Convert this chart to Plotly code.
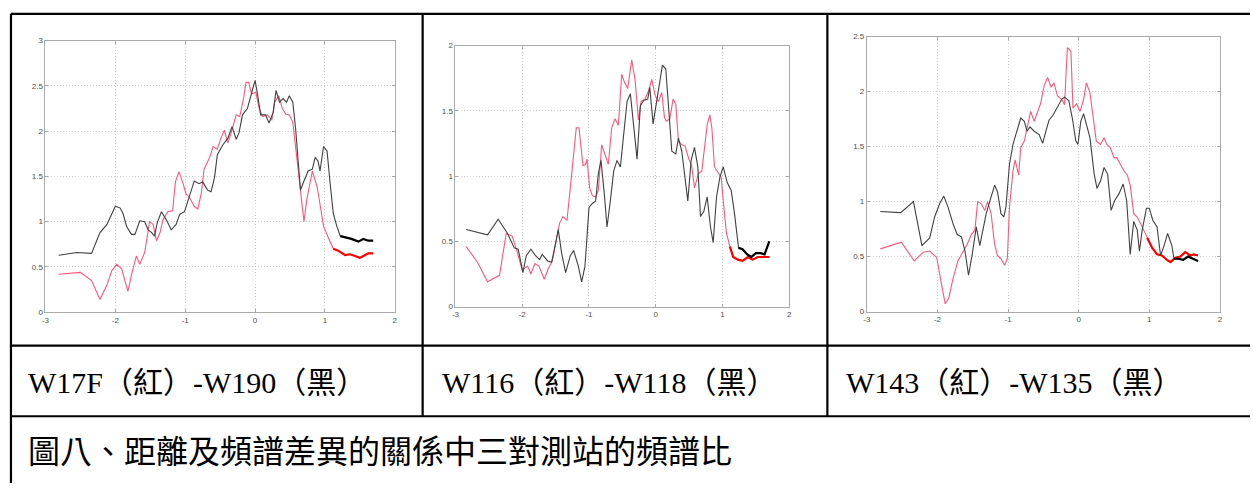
import plotly.graph_objects as go

W, H = 1253, 488

# ---------------- data ----------------
# Panel 1: W17F (red) - W190 (black)
p1_black_x = [-2.81, -2.55, -2.34, -2.22, -2.12, -2.05, -2.0, -1.93, -1.89, -1.84, -1.77, -1.72, -1.65, -1.58,
              -1.53, -1.48, -1.44, -1.40, -1.34, -1.27, -1.20, -1.13, -1.08, -1.01, -0.96, -0.91, -0.87, -0.80,
              -0.75, -0.68, -0.63, -0.58, -0.54, -0.46, -0.39, -0.33, -0.27, -0.23, -0.18, -0.11, -0.06, 0.0,
              0.03, 0.08, 0.15, 0.20, 0.26, 0.30, 0.35, 0.40, 0.45, 0.49, 0.54, 0.58, 0.62, 0.65, 0.70, 0.76,
              0.82, 0.86, 0.90, 0.93, 0.98, 1.03, 1.08, 1.12, 1.17, 1.22, 1.29, 1.38, 1.48, 1.55, 1.62, 1.69]
p1_black_y = [0.63, 0.66, 0.65, 0.88, 0.97, 1.09, 1.17, 1.15, 1.09, 0.95, 0.86, 0.86, 1.01, 1.00,
              0.91, 0.88, 0.84, 0.99, 1.11, 1.02, 0.91, 0.97, 1.08, 1.11, 1.24, 1.35, 1.45, 1.42,
              1.44, 1.35, 1.33, 1.49, 1.74, 1.85, 1.92, 2.05, 1.91, 1.98, 2.18, 2.25, 2.38, 2.56,
              2.43, 2.18, 2.18, 2.09, 2.21, 2.45, 2.32, 2.36, 2.32, 2.39, 2.32, 2.03, 1.64, 1.35, 1.45, 1.56,
              1.58, 1.71, 1.67, 1.56, 1.83, 1.78, 1.38, 1.09, 0.95, 0.84, 0.83, 0.81, 0.78, 0.81, 0.79, 0.79]
p1_red_x = [-2.81, -2.50, -2.34, -2.22, -2.12, -2.05, -1.98, -1.91, -1.82, -1.77, -1.70, -1.65, -1.58, -1.51,
            -1.46, -1.41, -1.36, -1.32, -1.25, -1.18, -1.14, -1.09, -1.03, -0.99, -0.94, -0.87, -0.82, -0.77,
            -0.73, -0.65, -0.60, -0.54, -0.49, -0.44, -0.39, -0.35, -0.27, -0.22, -0.16, -0.13, -0.09, -0.05,
            0.01, 0.06, 0.11, 0.18, 0.24, 0.28, 0.34, 0.39, 0.44, 0.49, 0.54, 0.60, 0.65, 0.70, 0.74, 0.79,
            0.82, 0.89, 0.93, 0.98, 1.05, 1.12, 1.19, 1.29, 1.36, 1.43, 1.50, 1.55, 1.62, 1.69]
p1_red_y = [0.42, 0.44, 0.35, 0.14, 0.30, 0.46, 0.53, 0.48, 0.23, 0.41, 0.62, 0.53, 0.66, 1.00,
            0.97, 0.79, 0.88, 1.02, 1.11, 1.12, 1.44, 1.55, 1.42, 1.31, 1.27, 1.17, 1.14, 1.31,
            1.58, 1.71, 1.83, 1.80, 1.92, 2.01, 1.87, 1.96, 2.18, 2.16, 2.38, 2.54, 2.54, 2.41,
            2.43, 2.25, 2.16, 2.18, 2.12, 2.32, 2.39, 2.25, 2.19, 2.18, 2.10, 1.67, 1.31, 1.00, 1.24, 1.45,
            1.56, 1.38, 1.17, 0.95, 0.82, 0.70, 0.68, 0.63, 0.64, 0.62, 0.60, 0.62, 0.65, 0.65]

# Panel 2: W116 (red) - W118 (black)
p2_black_x = [-2.84, -2.52, -2.36, -2.22, -2.12, -2.06, -1.99, -1.94, -1.87, -1.80, -1.74, -1.70, -1.62, -1.56,
              -1.53, -1.46, -1.41, -1.35, -1.28, -1.23, -1.16, -1.11, -1.06, -1.00, -0.95, -0.90, -0.86, -0.82,
              -0.77, -0.73, -0.68, -0.63, -0.58, -0.53, -0.48, -0.43, -0.38, -0.33, -0.28, -0.23, -0.18, -0.12,
              -0.09, -0.04, 0.0, 0.05, 0.10, 0.15, 0.20, 0.24, 0.30, 0.34, 0.39, 0.44, 0.48, 0.53, 0.58, 0.63,
              0.67, 0.72, 0.77, 0.82, 0.86, 0.91, 0.96, 1.01, 1.07, 1.13, 1.18, 1.24, 1.30, 1.37, 1.43, 1.50,
              1.57, 1.63, 1.67, 1.70]
p2_black_y = [0.59, 0.55, 0.67, 0.56, 0.45, 0.44, 0.26, 0.39, 0.44, 0.39, 0.36, 0.40, 0.35, 0.34,
              0.41, 0.59, 0.41, 0.26, 0.39, 0.43, 0.31, 0.19, 0.31, 0.76, 0.79, 0.81, 1.02, 1.12,
              0.86, 0.61, 0.81, 1.04, 1.12, 1.07, 1.32, 1.57, 1.63, 1.40, 1.13, 1.54, 1.58, 1.59,
              1.68, 1.40, 1.52, 1.68, 1.85, 1.82, 1.47, 1.19, 1.17, 1.29, 1.19, 0.96, 0.81, 1.12, 1.22, 1.07,
              0.69, 0.73, 0.84, 0.61, 0.49, 0.84, 0.99, 1.07, 0.95, 0.89, 0.71, 0.45, 0.44, 0.40, 0.38, 0.41,
              0.41, 0.40, 0.45, 0.50]
p2_red_x = [-2.84, -2.67, -2.52, -2.34, -2.24, -2.15, -2.07, -2.00, -1.92, -1.87, -1.81, -1.75, -1.67, -1.61,
            -1.55, -1.49, -1.44, -1.39, -1.33, -1.28, -1.23, -1.19, -1.15, -1.12, -1.09, -1.05, -1.03, -0.99,
            -0.95, -0.90, -0.86, -0.81, -0.76, -0.71, -0.66, -0.61, -0.56, -0.51, -0.47, -0.42, -0.36, -0.31,
            -0.26, -0.22, -0.16, -0.11, -0.06, -0.01, 0.04, 0.09, 0.13, 0.16, 0.21, 0.26, 0.30, 0.34, 0.39,
            0.44, 0.49, 0.54, 0.58, 0.64, 0.69, 0.72, 0.77, 0.81, 0.84, 0.88, 0.93, 0.98, 1.02, 1.06, 1.11,
            1.16, 1.23, 1.30, 1.38, 1.45, 1.53, 1.63, 1.70]
p2_red_y = [0.46, 0.34, 0.19, 0.24, 0.56, 0.54, 0.41, 0.28, 0.31, 0.25, 0.33, 0.31, 0.21, 0.29,
            0.35, 0.51, 0.64, 0.69, 0.66, 0.91, 1.17, 1.37, 1.37, 1.22, 1.08, 1.09, 1.13, 0.91,
            0.85, 0.84, 0.89, 1.24, 1.17, 1.09, 1.37, 1.44, 1.39, 1.78, 1.72, 1.67, 1.89, 1.74,
            1.43, 1.57, 1.59, 1.65, 1.74, 1.62, 1.57, 1.64, 1.45, 1.42, 1.44, 1.59, 1.55, 1.27, 1.24,
            1.23, 1.14, 1.07, 0.91, 1.02, 1.04, 1.17, 1.39, 1.47, 1.37, 1.07, 1.03, 0.99, 0.76, 0.56, 0.46,
            0.38, 0.36, 0.35, 0.38, 0.36, 0.38, 0.38, 0.38]

# Panel 3: W143 (red) - W135 (black)
p3_black_x = [-2.81, -2.52, -2.34, -2.22, -2.11, -2.04, -1.97, -1.91, -1.85, -1.78, -1.72, -1.66, -1.61, -1.56,
              -1.51, -1.45, -1.40, -1.36, -1.31, -1.26, -1.19, -1.15, -1.10, -1.06, -1.03, -0.98, -0.93, -0.89,
              -0.82, -0.77, -0.73, -0.69, -0.63, -0.56, -0.51, -0.46, -0.42, -0.36, -0.31, -0.24, -0.20, -0.14,
              -0.09, -0.04, -0.01, 0.03, 0.07, 0.11, 0.16, 0.22, 0.26, 0.31, 0.36, 0.41, 0.46, 0.51, 0.57, 0.63,
              0.68, 0.73, 0.78, 0.83, 0.86, 0.90, 0.96, 1.00, 1.05, 1.11, 1.16, 1.21, 1.26, 1.32, 1.35, 1.41,
              1.48, 1.55, 1.62, 1.69]
p3_black_y = [0.91, 0.90, 1.00, 0.60, 0.67, 0.86, 0.98, 1.05, 0.95, 0.80, 0.70, 0.68, 0.55, 0.33,
              0.51, 0.77, 0.60, 0.74, 0.89, 1.00, 1.15, 1.09, 0.89, 0.86, 0.95, 1.34, 1.52, 1.61,
              1.76, 1.73, 1.64, 1.68, 1.64, 1.61, 1.53, 1.65, 1.74, 1.79, 1.85, 1.93, 1.95, 1.92,
              1.76, 1.55, 1.52, 1.73, 1.80, 1.70, 1.58, 1.25, 1.12, 1.19, 1.31, 1.25, 0.92, 1.01, 1.07, 1.16,
              1.01, 0.52, 0.82, 0.74, 0.55, 0.74, 0.94, 0.94, 0.83, 0.77, 0.51, 0.60, 0.71, 0.60, 0.48, 0.48,
              0.47, 0.50, 0.48, 0.46]
p3_red_x = [-2.81, -2.51, -2.33, -2.20, -2.11, -2.01, -1.94, -1.89, -1.84, -1.78, -1.71, -1.64, -1.58, -1.52,
            -1.47, -1.43, -1.38, -1.33, -1.29, -1.24, -1.19, -1.15, -1.10, -1.05, -1.01, -0.98, -0.93, -0.90,
            -0.85, -0.82, -0.77, -0.72, -0.68, -0.63, -0.58, -0.54, -0.49, -0.44, -0.39, -0.35, -0.30, -0.24,
            -0.20, -0.16, -0.11, -0.08, -0.03, 0.02, 0.07, 0.11, 0.16, 0.21, 0.25, 0.31, 0.36, 0.40, 0.45,
            0.50, 0.54, 0.59, 0.64, 0.69, 0.73, 0.78, 0.83, 0.90, 0.97, 1.04, 1.11, 1.18, 1.25, 1.30, 1.37,
            1.44, 1.51, 1.58, 1.63, 1.69]
p3_red_y = [0.57, 0.63, 0.46, 0.54, 0.55, 0.49, 0.24, 0.07, 0.12, 0.30, 0.46, 0.54, 0.61, 0.70,
            0.74, 1.00, 0.98, 0.92, 1.00, 0.89, 0.61, 0.51, 0.48, 0.42, 0.48, 0.95, 1.28, 1.38,
            1.24, 1.49, 1.55, 1.70, 1.82, 1.73, 1.82, 1.89, 2.05, 2.13, 2.04, 2.08, 1.96, 1.93,
            1.88, 2.40, 2.37, 1.85, 1.89, 1.82, 1.93, 2.08, 1.99, 1.76, 1.55, 1.52, 1.58, 1.52, 1.49,
            1.40, 1.40, 1.34, 1.28, 1.24, 1.15, 0.89, 0.86, 0.77, 0.67, 0.58, 0.52, 0.51, 0.47, 0.45, 0.49,
            0.50, 0.54, 0.51, 0.52, 0.51]

# where each series turns into the dense, heavier tail
tail_start = {"p1_red": 1.10, "p1_black": 1.20, "p2_red": 1.11, "p2_black": 1.24,
              "p3_red": 0.97, "p3_black": 1.35}

y_ticks = [[0, 0.5, 1, 1.5, 2, 2.5, 3], [0, 0.5, 1, 1.5, 2], [0, 0.5, 1, 1.5, 2, 2.5]]
y_tick_text = [["0", "0.5", "1", "1.5", "2", "2.5", "3"], ["0", "0.5", "1", "1.5", "2"],
               ["0", "0.5", "1", "1.5", "2", "2.5"]]
x_ticks = [-3, -2, -1, 0, 1, 2]
x_tick_text = ["-3", "-2", "-1", "0", "1", "2"]

pair_labels = ["W17F（紅）-W190（黑）", "W116（紅）-W118（黑）", "W143（紅）-W135（黑）"]
caption = "圖八、距離及頻譜差異的關係中三對測站的頻譜比"

# ---------------- layout helpers ----------------
def px(x):
    return x / W

def py(y):
    return 1 - y / H

# plot boxes in pixels: left, right, top, bottom
boxes = [(41.7, 393.0, 37.3, 314.0), (454.0, 789.7, 42.3, 308.3), (867.7, 1222.7, 33.3, 313.3)]

RED_THIN = "#ff5577"
RED_TAIL = "#ff0000"
BLACK_THIN = "#404040"
BLACK_TAIL = "#000000"

fig = go.Figure()

series = [
    (p1_red_x, p1_red_y, p1_black_x, p1_black_y, "p1"),
    (p2_red_x, p2_red_y, p2_black_x, p2_black_y, "p2"),
    (p3_red_x, p3_red_y, p3_black_x, p3_black_y, "p3"),
]

for i, (rx, ry, bx, by, key) in enumerate(series):
    xa = "x" if i == 0 else f"x{i+1}"
    ya = "y" if i == 0 else f"y{i+1}"
    for xs, ys, col, colt, nm in [(rx, ry, RED_THIN, RED_TAIL, "red"), (bx, by, BLACK_THIN, BLACK_TAIL, "black")]:
        fig.add_trace(go.Scatter(x=xs, y=ys, mode="lines", xaxis=xa, yaxis=ya,
                                 line=dict(color=col, width=1.1), showlegend=False, hoverinfo="skip"))
        ts = tail_start[f"{key}_{nm}"]
        tx = [x for x in xs if x >= ts]
        ty = [y for x, y in zip(xs, ys) if x >= ts]
        fig.add_trace(go.Scatter(x=tx, y=ty, mode="lines", xaxis=xa, yaxis=ya,
                                 line=dict(color=colt, width=2.2), showlegend=False, hoverinfo="skip"))

axis_common = dict(showline=True, linecolor="#a9a9a9", linewidth=1, mirror="ticks", ticks="inside",
                   ticklen=3, tickcolor="#a9a9a9", showgrid=True, gridcolor="#cfcfcf", griddash="1px,2px",
                   gridwidth=1, zeroline=False,
                   tickfont=dict(family="Liberation Sans, Arial", size=8, color="#505050"))

layout = dict(width=W, height=H, margin=dict(l=0, r=0, t=0, b=0), paper_bgcolor="white",
              plot_bgcolor="white", showlegend=False)

for i, (l, r, t, b) in enumerate(boxes):
    sx = "" if i == 0 else str(i + 1)
    layout[f"xaxis{sx}"] = dict(axis_common, domain=[px(l), px(r)], range=[-3, 2],
                                tickvals=x_ticks, ticktext=x_tick_text,
                                anchor=f"y{sx}")
    yr = y_ticks[i][-1]
    layout[f"yaxis{sx}"] = dict(axis_common, domain=[py(b), py(t)], range=[0, yr],
                                tickvals=y_ticks[i], ticktext=y_tick_text[i],
                                anchor=f"x{sx}")

fig.update_layout(**layout)

# table rules
lines = [
    (7, 10, W, 10), (7, 10, 7, H),
    (421, 10, 421, 420), (828, 10, 828, 420),
    (7, 348, W, 348), (7, 420, W, 420),
]
for x0, y0, x1, y1 in lines:
    fig.add_shape(type="line", xref="paper", yref="paper", x0=px(x0), y0=py(y0), x1=px(x1), y1=py(y1),
                  line=dict(color="black", width=2.2))

text_font = "Liberation Serif, Noto Sans CJK TC, serif"
for x0, lab in zip([22, 438, 845], pair_labels):
    fig.add_annotation(xref="paper", yref="paper", x=px(x0), y=py(386), text=lab, showarrow=False,
                       xanchor="left", yanchor="middle", font=dict(family=text_font, size=30, color="black"))

fig.add_annotation(xref="paper", yref="paper", x=px(22), y=py(456), text=caption, showarrow=False,
                   xanchor="left", yanchor="middle", font=dict(family=text_font, size=32, color="black"))

fig.write_html("out.html", config={"displayModeBar": False})

# remove the browser's default page margin so the figure sits at the window origin
with open("out.html", "r", encoding="utf-8") as f:
    html = f.read()
html = html.replace("<head>", "<head><style>html,body{margin:0;padding:0;overflow:hidden;}</style>", 1)
with open("out.html", "w", encoding="utf-8") as f:
    f.write(html)
